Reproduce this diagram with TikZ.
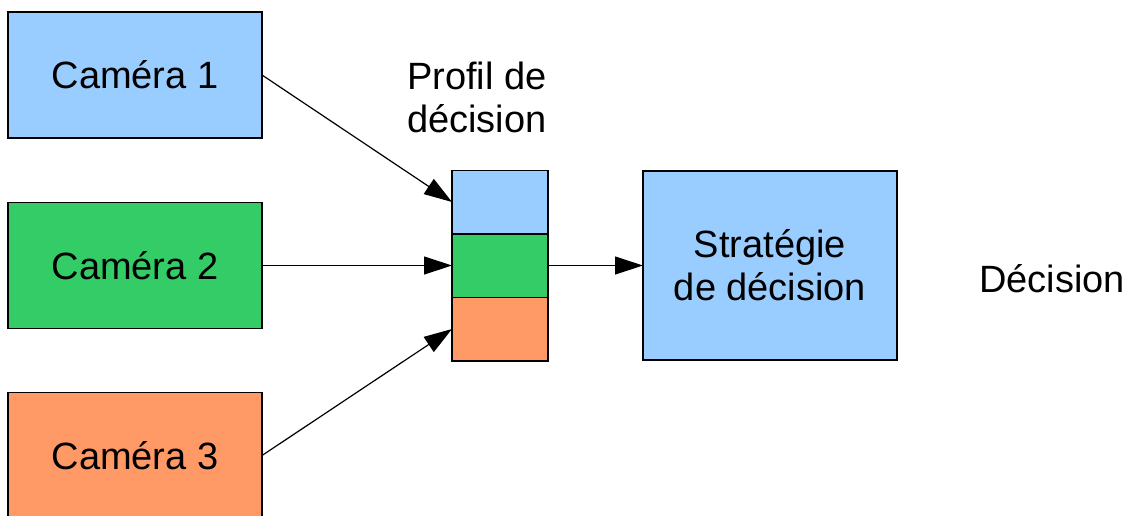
\documentclass[tikz,border=0pt]{standalone}
\usepackage{fontspec}
\setmainfont{Liberation Sans}
\usetikzlibrary{positioning,arrows.meta}
\definecolor{camBlue}{RGB}{153,204,255}
\definecolor{camGreen}{RGB}{51,204,102}
\definecolor{camOrange}{RGB}{255,153,102}

\begin{document}
\begin{tikzpicture}[x=1pt, y=-1pt,
    cambox/.style={draw, line width=1.5pt, minimum width=254pt, minimum height=126pt,
      font=\fontsize{38}{43}\selectfont, outer sep=0pt},
    cell/.style={draw, line width=1.5pt, minimum width=96pt, minimum height=63.5pt,
      outer sep=0pt},
    label/.style={align=center, font=\fontsize{38}{43}\selectfont},
    arrow/.style={-{Triangle[length=28pt, width=18pt]}, line width=1.2pt}
  ]
    \useasboundingbox (0,0) rectangle (1134,515);
    \node[cambox, fill=camBlue] (cam1) at (135,75) {Caméra 1};
    \node[cambox, fill=camGreen, below=64.5pt of cam1] (cam2) {Caméra 2};
    \node[cambox, fill=camOrange, below=64pt of cam2] (cam3) {Caméra 3};

    \node[cell, fill=camBlue] (pblue) at (500,202) {};
    \node[cell, fill=camGreen, below=0pt of pblue] (pgreen) {};
    \node[cell, fill=camOrange, below=0pt of pgreen] (porange) {};
    \node[label] (profil) at (477,97) {Profil de\\décision};

    \node[cambox, fill=camBlue, minimum height=189pt, align=center] (strat) at (770,265.5)
      {Stratégie\\de décision};
    \node[label] (decision) at (1052,279) {Décision};

    \draw[arrow] (cam1.east) -- (pblue.west);
    \draw[arrow] (cam2.east) -- (pgreen.west);
    \draw[arrow] (cam3.east) -- (porange.west);
    \draw[arrow] (pgreen.east) -- (strat.west);
  \end{tikzpicture}
\end{document}
